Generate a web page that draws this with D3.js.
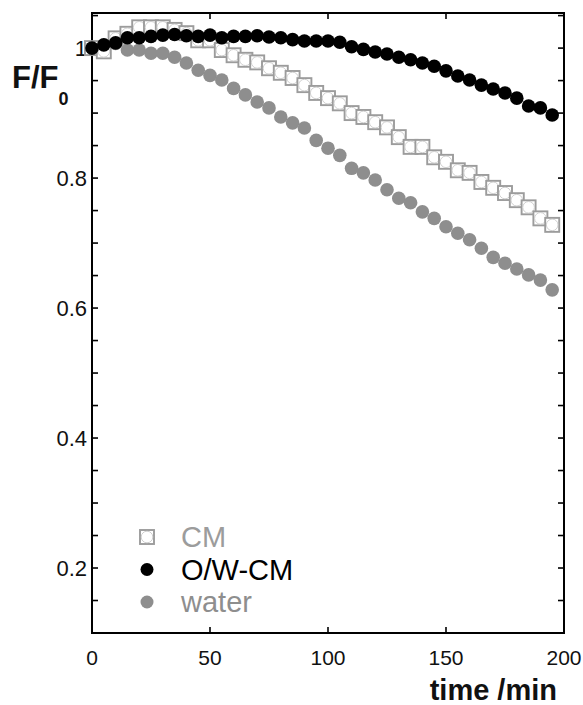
<!DOCTYPE html>
<html>
<head>
<meta charset="utf-8">
<script src="https://cdn.jsdelivr.net/npm/d3@7"></script>
<style>
  html, body { margin: 0; padding: 0; background: #fff; }
  svg { display: block; font-family: "Liberation Sans", Arial, sans-serif; }
</style>
</head>
<body>
<div id="chart"></div>
<script>
// sampling times (min)
const times = [0, 5, 10, 15, 20, 25, 30, 35, 40, 45, 50, 55, 60, 65, 70, 75, 80, 85, 90, 95,
  100, 105, 110, 115, 120, 125, 130, 135, 140, 145, 150, 155, 160, 165, 170, 175, 180, 185, 190, 195];

const cmValues = [1.0, 0.995, 1.015, 1.022, 1.032, 1.032, 1.032, 1.028, 1.023, 1.012, 1.012, 0.997,
  0.989, 0.982, 0.978, 0.969, 0.962, 0.954, 0.943, 0.931, 0.923, 0.915, 0.9, 0.894, 0.886, 0.878,
  0.863, 0.848, 0.848, 0.832, 0.825, 0.812, 0.808, 0.794, 0.785, 0.777, 0.766, 0.755, 0.738, 0.728];

const owcmValues = [1.0, 1.005, 1.008, 1.016, 1.016, 1.018, 1.02, 1.021, 1.019, 1.018, 1.02, 1.016,
  1.018, 1.018, 1.019, 1.017, 1.016, 1.013, 1.011, 1.011, 1.011, 1.009, 1.002, 0.998, 0.994, 0.991,
  0.986, 0.982, 0.977, 0.972, 0.965, 0.957, 0.951, 0.943, 0.937, 0.931, 0.923, 0.911, 0.908, 0.897];

const waterValues = [1.0, 1.0, 1.007, 0.997, 0.997, 0.992, 0.992, 0.986, 0.977, 0.966, 0.958, 0.951,
  0.938, 0.928, 0.917, 0.908, 0.894, 0.885, 0.877, 0.858, 0.846, 0.835, 0.815, 0.808, 0.797, 0.782,
  0.769, 0.762, 0.748, 0.738, 0.725, 0.715, 0.705, 0.692, 0.678, 0.669, 0.66, 0.651, 0.643, 0.628];

const xTicks = [0, 50, 100, 150, 200];
const yLabelTicks = [0.2, 0.4, 0.6, 0.8, 1];
const yMinorTicks = [0.15, 0.2, 0.25, 0.3, 0.35, 0.4, 0.45, 0.5, 0.55, 0.6, 0.65, 0.7, 0.75, 0.8,
  0.85, 0.9, 0.95, 1.0, 1.05];

const legendLabels = ["CM", "O/W-CM", "water"];

const width = 583;
const height = 705;
const frame = { left: 92, right: 564, top: 13, bottom: 633 };

const gray = "#8e8e8e";
const cmGray = "#9c9c9c";
const dotR = 6.8;

const svg = d3.select("#chart").append("svg")
  .attr("width", width)
  .attr("height", height);

const x = d3.scaleLinear().domain([0, 200]).range([frame.left, frame.right]);
const y = d3.scaleLinear().domain([0.1, 1.054]).range([frame.bottom, frame.top]);

// frame
svg.append("rect")
  .attr("x", frame.left)
  .attr("y", frame.top)
  .attr("width", frame.right - frame.left)
  .attr("height", frame.bottom - frame.top)
  .attr("fill", "none")
  .attr("stroke", "#000")
  .attr("stroke-width", 2);

// inward ticks on all four sides
const innerX = xTicks.filter((d) => d > 0 && d < 200);
const axisG = svg.append("g").attr("stroke", "#000").attr("stroke-width", 1.6);
innerX.forEach((t) => {
  axisG.append("line").attr("x1", x(t)).attr("x2", x(t)).attr("y1", frame.bottom).attr("y2", frame.bottom - 6);
  axisG.append("line").attr("x1", x(t)).attr("x2", x(t)).attr("y1", frame.top).attr("y2", frame.top + 6);
});
yMinorTicks.forEach((v) => {
  axisG.append("line").attr("x1", frame.left).attr("x2", frame.left + 6).attr("y1", y(v)).attr("y2", y(v));
  axisG.append("line").attr("x1", frame.right).attr("x2", frame.right - 6).attr("y1", y(v)).attr("y2", y(v));
});

// tick labels
svg.append("g")
  .selectAll("text")
  .data(xTicks)
  .join("text")
  .attr("x", (d) => x(d))
  .attr("y", 665)
  .attr("text-anchor", "middle")
  .attr("font-size", 21)
  .attr("fill", "#111")
  .text((d) => d);

svg.append("g")
  .selectAll("text")
  .data(yLabelTicks)
  .join("text")
  .attr("x", frame.left - 5)
  .attr("y", (d) => y(d) + 8)
  .attr("text-anchor", "end")
  .attr("font-size", 22)
  .attr("fill", "#111")
  .text((d) => d);

// axis titles
const yTitle = svg.append("text")
  .attr("x", 12)
  .attr("y", 88)
  .attr("font-size", 31)
  .attr("font-weight", "bold")
  .attr("fill", "#111");
yTitle.append("tspan").text("F/F");
yTitle.append("tspan").attr("font-size", 18).attr("dy", 17).text("0");

svg.append("text")
  .attr("x", 557)
  .attr("y", 700)
  .attr("text-anchor", "end")
  .attr("font-size", 29)
  .attr("font-weight", "bold")
  .attr("fill", "#111")
  .text("time /min");

// markers
const water = times.map((t, i) => ({ t, v: waterValues[i] }));
const cm = times.map((t, i) => ({ t, v: cmValues[i] }));
const owcm = times.map((t, i) => ({ t, v: owcmValues[i] }));

function drawCM(g, cx, cy) {
  g.append("rect")
    .attr("x", cx - 7)
    .attr("y", cy - 7)
    .attr("width", 14)
    .attr("height", 14)
    .attr("fill", "#fff")
    .attr("stroke", cmGray)
    .attr("stroke-width", 1.9);
  g.append("circle")
    .attr("cx", cx)
    .attr("cy", cy)
    .attr("r", 5.8)
    .attr("fill", "#fff")
    .attr("stroke", "#c4c4c4")
    .attr("stroke-width", 0.8);
}

svg.append("g")
  .selectAll("circle")
  .data(water)
  .join("circle")
  .attr("cx", (d) => x(d.t))
  .attr("cy", (d) => y(d.v))
  .attr("r", dotR)
  .attr("fill", gray);

const cmG = svg.append("g");
cm.forEach((d) => drawCM(cmG, x(d.t), y(d.v)));

svg.append("g")
  .selectAll("circle")
  .data(owcm)
  .join("circle")
  .attr("cx", (d) => x(d.t))
  .attr("cy", (d) => y(d.v))
  .attr("r", dotR)
  .attr("fill", "#000");

// legend
const legendColors = [cmGray, "#000", gray];
const legend = svg.append("g");
legendLabels.forEach((label, i) => {
  const cy = 537 + i * 32.5;
  if (i === 0) {
    drawCM(legend, 147, cy);
  } else {
    legend.append("circle").attr("cx", 147).attr("cy", cy).attr("r", 6.5).attr("fill", legendColors[i]);
  }
  legend.append("text")
    .attr("x", 181)
    .attr("y", cy + 10)
    .attr("font-size", 29)
    .attr("fill", legendColors[i])
    .text(label);
});
</script>
</body>
</html>
